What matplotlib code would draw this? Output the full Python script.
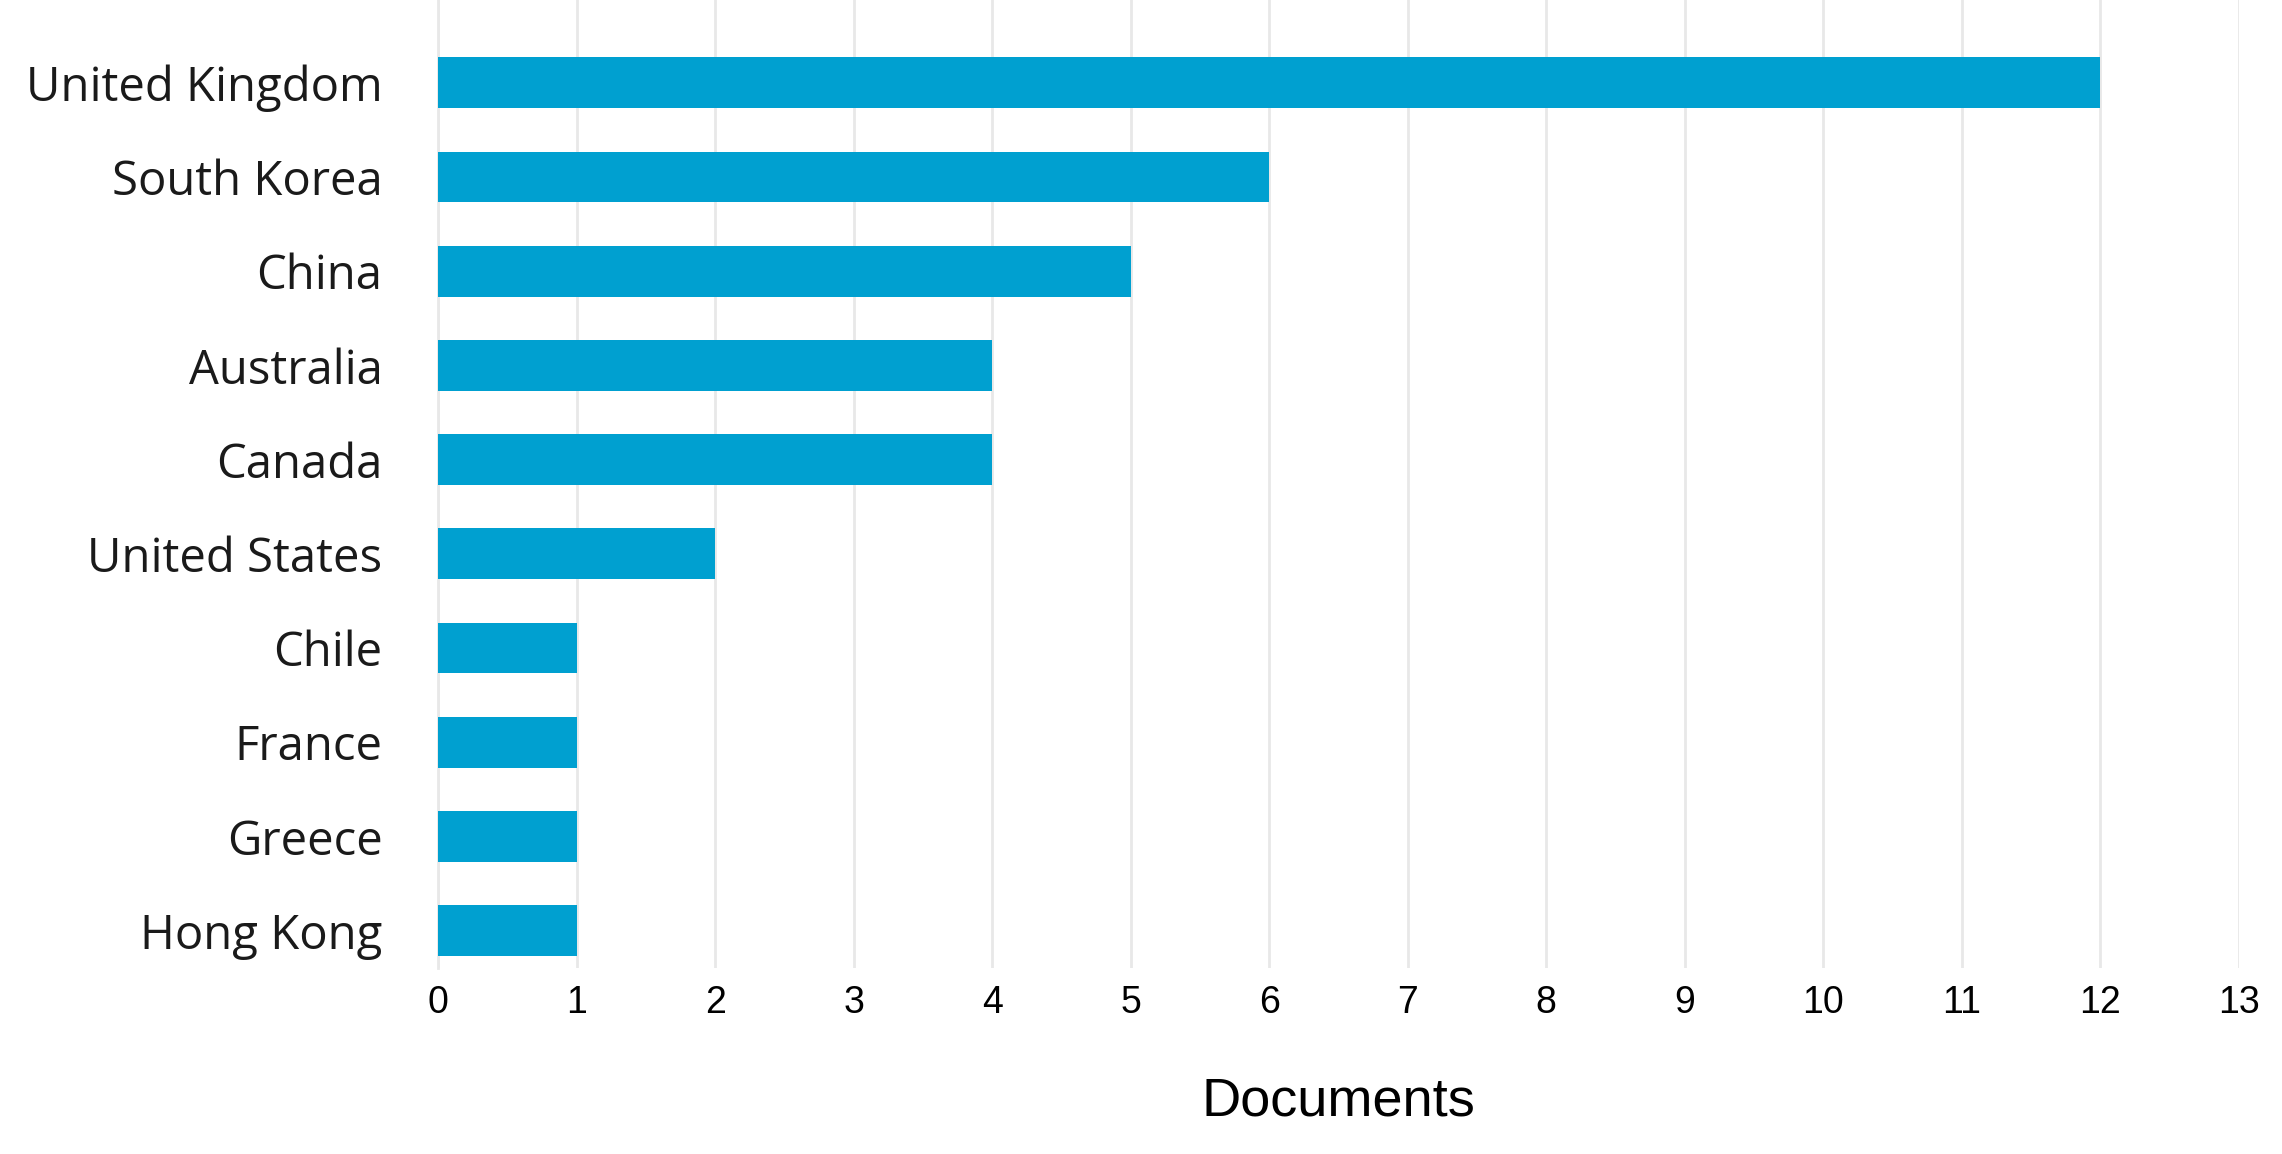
import matplotlib.pyplot as plt
import numpy as np

# Data
countries = ['United Kingdom', 'South Korea', 'China', 'Australia', 'Canada',
             'United States', 'Chile', 'France', 'Greece', 'Hong Kong']
documents = [12, 6, 5, 4, 4, 2, 1, 1, 1, 1]
xticks = list(range(0, 14))

fig = plt.figure(figsize=(22.82, 11.54), dpi=100)
ax = fig.add_axes([0.192, 0.161, 0.789, 0.839])

y = np.arange(len(countries))
ax.barh(y, documents, height=0.54, color='#00A0D0', zorder=3)

ax.set_xlim(0, 13)
ax.set_ylim(9.40, -0.88)
ax.set_xticks(xticks)
ax.set_xticklabels([str(t) for t in xticks], fontsize=27, family='Liberation Sans')
ax.set_yticks(y)
ax.set_yticklabels(countries, fontsize=34, family='Open Sans', color='#1a1a1a')
ax.tick_params(axis='both', length=0)
ax.tick_params(axis='y', pad=40)
ax.tick_params(axis='x', pad=12)

ax.grid(axis='x', color='#E8E8E8', linewidth=2, zorder=0)
for s in ['top', 'right', 'bottom']:
    ax.spines[s].set_visible(False)
ax.spines['left'].set_color('#E8E8E8')
ax.spines['left'].set_linewidth(2)

ax.set_xlabel('Documents', fontsize=39, family='Liberation Sans', labelpad=40)

fig.savefig('out.png', dpi=100)
